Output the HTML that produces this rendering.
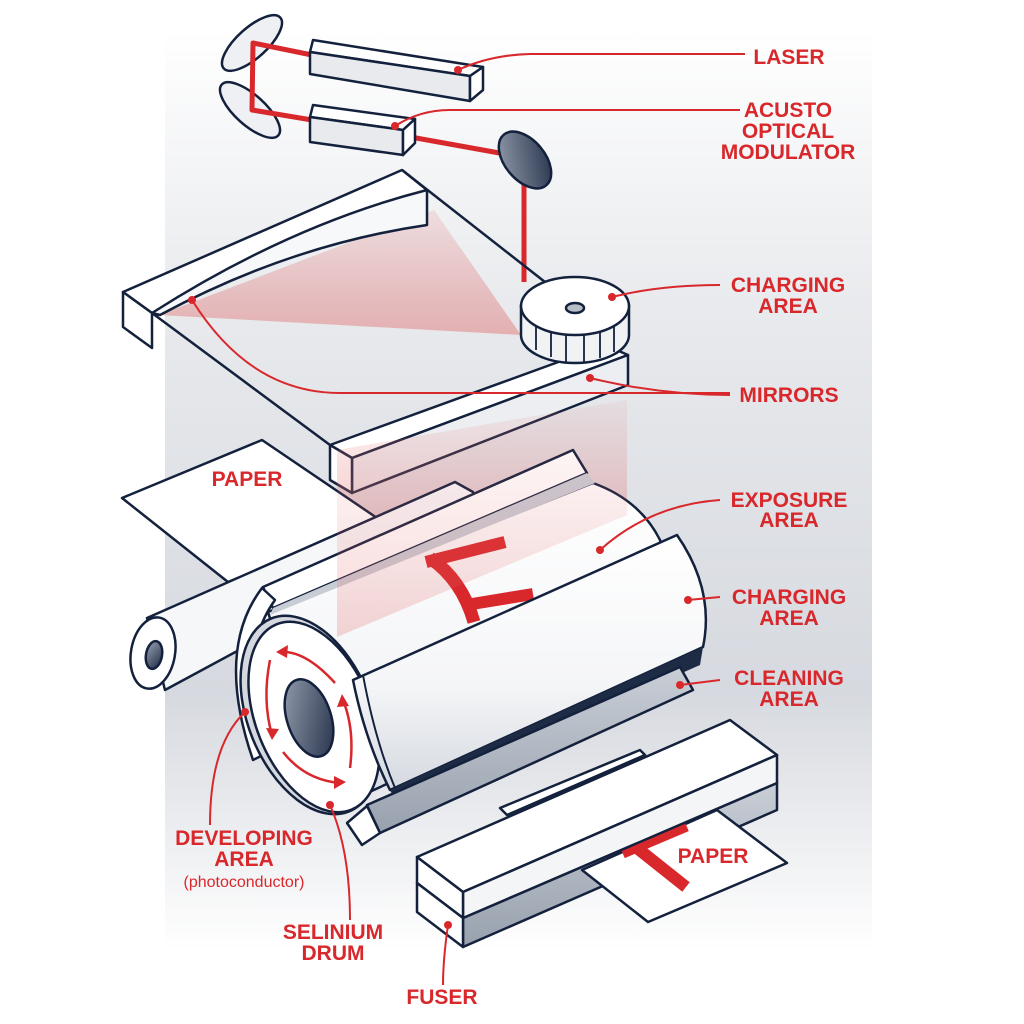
<!DOCTYPE html>
<html><head><meta charset="utf-8"><style>
html,body{margin:0;padding:0;background:#fff;}
svg{display:block}
.lb{font-family:"Liberation Sans",sans-serif;font-weight:bold;font-size:21px;fill:#d8282c;text-anchor:middle}
.ld{stroke:#d8282c;stroke-width:2;fill:none}
.o{stroke:#14213d;stroke-width:2.5;stroke-linejoin:round}
</style></head><body>
<svg width="1024" height="1024" viewBox="0 0 1024 1024" xmlns="http://www.w3.org/2000/svg">
<defs>
<linearGradient id="bg" x1="0" y1="0" x2="0" y2="1">
<stop offset="0" stop-color="#ffffff"/><stop offset="0.3" stop-color="#e8eaed"/><stop offset="0.72" stop-color="#d6d9df"/><stop offset="1" stop-color="#ffffff"/></linearGradient>
<linearGradient id="dk" x1="0" y1="0" x2="1" y2="1"><stop offset="0" stop-color="#9aa3b2"/><stop offset="1" stop-color="#1e2b45"/></linearGradient>
<linearGradient id="rd" x1="0" y1="0" x2="0" y2="1"><stop offset="0" stop-color="#e06a6a" stop-opacity="0.15"/><stop offset="1" stop-color="#e06a6a" stop-opacity="0.45"/></linearGradient>
<linearGradient id="rb" x1="0" y1="0" x2="0" y2="1"><stop offset="0" stop-color="#e87878" stop-opacity="0.05"/><stop offset="1" stop-color="#e05a5a" stop-opacity="0.4"/></linearGradient>
<linearGradient id="cy" x1="0" y1="0" x2="0" y2="1"><stop offset="0" stop-color="#ffffff"/><stop offset="0.6" stop-color="#f4f5f7"/><stop offset="1" stop-color="#d5d9e0"/></linearGradient>
<linearGradient id="gr" x1="0" y1="0" x2="0" y2="1"><stop offset="0" stop-color="#c9ced6"/><stop offset="1" stop-color="#98a1ae"/></linearGradient>
</defs>
<rect x="165" y="30" width="707" height="920" fill="url(#bg)"/>

<ellipse cx="252" cy="43" rx="38" ry="15" transform="rotate(-42 252 43)" fill="#eef0f3" class="o"/>
<ellipse cx="250" cy="110" rx="38" ry="15" transform="rotate(42 250 110)" fill="#eef0f3" class="o"/>
<polyline points="312,55 253,43 252,110 312,120" fill="none" stroke="#d8282c" stroke-width="5" stroke-linejoin="round"/>
<line x1="405" y1="136" x2="505" y2="154" stroke="#d8282c" stroke-width="5"/>
<line x1="524" y1="175" x2="524" y2="282" stroke="#d8282c" stroke-width="5"/>
<polygon points="313,40 483,67 470,76 310,52" fill="#fff" class="o"/>
<polygon points="310,52 470,76 470,101 310,74" fill="#e8eaee" class="o"/>
<polygon points="470,76 483,67 483,90 470,101" fill="#fff" class="o"/>
<polygon points="313,105 415,119 403,130 310,117" fill="#fff" class="o"/>
<polygon points="310,117 403,130 403,155 310,142" fill="#e8eaee" class="o"/>
<polygon points="403,130 415,119 415,143 403,155" fill="#fff" class="o"/>
<ellipse cx="525" cy="160" rx="20" ry="33" transform="rotate(-40 525 160)" fill="url(#dk)" class="o"/>

<line x1="402" y1="170" x2="545" y2="282" stroke="#14213d" stroke-width="2.5"/>
<line x1="152" y1="313" x2="330" y2="445" stroke="#14213d" stroke-width="2.5"/>
<polygon points="159,315 434,210 521,335" fill="url(#rd)"/>
<polygon points="123,292 402,170 427,190 152,313" fill="#fff" class="o"/>
<path d="M152,313 Q290,225 427,190 L427,225 Q290,245 160,315 Z" fill="#f7f8f9" class="o"/>
<polygon points="123,292 152,313 152,348 123,327" fill="#fff" class="o"/>
<polygon points="330,445 605,345 628,355 352,458" fill="#fff" class="o"/>
<polygon points="352,458 628,355 628,385 352,493" fill="#eceef1" class="o"/>
<polygon points="330,445 352,458 352,493 330,480" fill="#fff" class="o"/>
<path d="M521,305 L521,335 A54,28 0 0 0 629,335 L629,305 Z" fill="#f1f2f4" class="o"/>
<g stroke="#14213d" stroke-width="1.8">
<line x1="536" y1="350" x2="536" y2="326"/><line x1="551" y1="357" x2="551" y2="331"/><line x1="566" y1="362" x2="566" y2="333"/><line x1="584" y1="362" x2="584" y2="333"/><line x1="600" y1="358" x2="600" y2="330"/><line x1="614" y1="352" x2="614" y2="325"/></g>
<ellipse cx="575" cy="306" rx="54" ry="29" fill="#fff" class="o"/>
<ellipse cx="575" cy="308" rx="9" ry="5" fill="#b8bec8" class="o"/>

<polygon points="337,450 627,400 627,530 337,637" fill="url(#rb)"/>

<polygon points="122,498 262,440 380,520 228,582" fill="#fff" class="o"/>
<polygon points="147,618 455,482 473,492 480,520 165,690" fill="#f6f7f9" class="o"/>
<ellipse cx="153" cy="653" rx="22" ry="36" transform="rotate(10 153 653)" fill="#fff" class="o"/>
<ellipse cx="154" cy="655" rx="8" ry="14" transform="rotate(10 154 655)" fill="url(#dk)" class="o"/>

<polygon points="263,587 573,450 587,473 273,608" fill="#fff" class="o"/>
<path d="M268,612 L593,483 Q640,500 660,540 L680,650 L330,810 Z" fill="url(#cy)" class="o"/>
<polygon points="273,608 587,473 595,483 270,615" fill="#c8cdd5"/>
<path d="M430,558 Q462,580 474,622" fill="none" stroke="#d8282c" stroke-width="13"/>
<path d="M426,562 L505,542" fill="none" stroke="#d8282c" stroke-width="12"/>
<path d="M472,604 L533,594" fill="none" stroke="#d8282c" stroke-width="12"/>
<polygon points="337,450 627,400 627,515 337,637" fill="url(#rb)" opacity="0.6"/>
<path d="M262,588 Q215,650 253,760 L267,753 Q235,655 275,600 Z" fill="#fff" class="o"/>
<ellipse cx="310" cy="715" rx="62" ry="104" transform="rotate(-22 310 715)" fill="#d5d9df" class="o"/>
<ellipse cx="314" cy="717" rx="58" ry="100" transform="rotate(-22 314 717)" fill="#fff" class="o"/>
<ellipse cx="309" cy="718" rx="22" ry="40" transform="rotate(-18 309 718)" fill="url(#dk)" class="o"/>
<g fill="none" stroke="#d8282c" stroke-width="2.5">
<path d="M335,683 Q305,650 280,652"/>
<path d="M270,660 Q262,700 272,735"/>
<path d="M283,752 Q305,780 340,783"/>
<path d="M350,768 Q355,730 343,700"/>
</g>
<g fill="#d8282c">
<polygon points="276,652 288,645 287,658"/>
<polygon points="272,740 266,728 279,729"/>
<polygon points="346,782 334,776 334,789"/>
<polygon points="342,694 337,707 349,706"/>
</g>
<path d="M353,680 L677,535 Q715,590 703,647 L390,790 Q365,740 353,680 Z" fill="url(#cy)" class="o"/>
<path d="M363,675 Q375,740 395,788" fill="none" stroke="#14213d" stroke-width="2"/>
<polygon points="390,790 703,647 700,665 395,800" fill="#1e2b45"/>
<polygon points="367,805 680,667 693,690 380,833" fill="url(#gr)" class="o"/>
<polygon points="347,823 367,806 380,833 362,845" fill="#fff" class="o"/>

<polygon points="417,857 730,720 777,755 463,892" fill="#fff" class="o"/>
<polygon points="500,808 640,750 645,755 507,815" fill="#fff" class="o"/>
<polygon points="463,918 777,783 777,810 463,947" fill="url(#gr)" class="o"/>
<polygon points="582,870 717,810 787,863 648,922" fill="#fff" class="o"/>
<line x1="623" y1="854" x2="687" y2="827" stroke="#d8282c" stroke-width="9"/>
<line x1="637" y1="848" x2="686" y2="887" stroke="#d8282c" stroke-width="12"/>
<polygon points="463,892 777,755 777,783 463,918" fill="#f4f5f7" class="o"/>
<polygon points="417,857 463,892 463,918 417,883" fill="#fff" class="o"/>
<polygon points="417,883 463,918 463,947 417,912" fill="#fff" class="o"/>

<g class="ld">
<path d="M458,70 Q490,55 530,54 L745,54"/>
<path d="M395,126 Q420,110 450,110 L740,110"/>
<path d="M612,297 Q660,285 720,285"/>
<path d="M590,378 Q660,395 730,395"/>
<path d="M192,300 Q250,393 340,393 L730,393"/>
<path d="M600,550 Q650,505 720,500"/>
<path d="M688,600 L720,597"/>
<path d="M680,685 L720,680"/>
<path d="M245,712 Q210,745 210,825"/>
<path d="M330,805 Q350,850 350,920"/>
<path d="M448,925 Q443,960 443,985"/>
</g>
<g fill="#d8282c">
<circle cx="458" cy="70" r="4"/><circle cx="395" cy="126" r="4"/><circle cx="612" cy="297" r="4"/><circle cx="590" cy="378" r="4"/><circle cx="192" cy="300" r="4"/><circle cx="600" cy="550" r="4"/><circle cx="688" cy="600" r="4"/><circle cx="680" cy="685" r="4"/><circle cx="245" cy="712" r="4"/><circle cx="330" cy="805" r="4"/><circle cx="448" cy="925" r="4"/>
</g>

<text class="lb" x="789" y="64">LASER</text>
<text class="lb" x="788" y="117">ACUSTO</text>
<text class="lb" x="788" y="138">OPTICAL</text>
<text class="lb" x="788" y="159">MODULATOR</text>
<text class="lb" x="788" y="292">CHARGING</text>
<text class="lb" x="788" y="313">AREA</text>
<text class="lb" x="789" y="402">MIRRORS</text>
<text class="lb" x="789" y="507">EXPOSURE</text>
<text class="lb" x="789" y="527">AREA</text>
<text class="lb" x="789" y="604">CHARGING</text>
<text class="lb" x="789" y="625">AREA</text>
<text class="lb" x="789" y="685">CLEANING</text>
<text class="lb" x="789" y="706">AREA</text>
<text class="lb" x="247" y="486">PAPER</text>
<text class="lb" x="713" y="863">PAPER</text>
<text class="lb" x="244" y="845">DEVELOPING</text>
<text class="lb" x="244" y="866">AREA</text>
<text x="244" y="887" font-family="Liberation Sans,sans-serif" font-size="16" fill="#d8282c" text-anchor="middle">(photoconductor)</text>
<text class="lb" x="333" y="939">SELINIUM</text>
<text class="lb" x="333" y="960">DRUM</text>
<text class="lb" x="442" y="1004">FUSER</text>
</svg>
</body></html>
